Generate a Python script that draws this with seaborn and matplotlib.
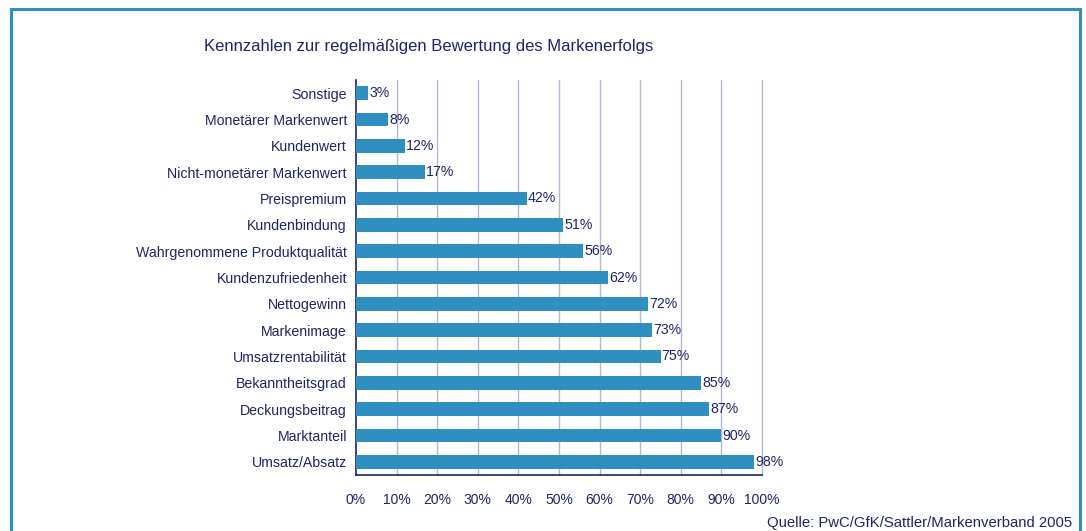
import matplotlib.pyplot as plt
import matplotlib.patches as mpatches
import numpy as np
import pandas as pd
import seaborn as sns

# data
labels = ["Sonstige", "Monetärer Markenwert", "Kundenwert", "Nicht-monetärer Markenwert",
          "Preispremium", "Kundenbindung", "Wahrgenommene Produktqualität", "Kundenzufriedenheit",
          "Nettogewinn", "Markenimage", "Umsatzrentabilität", "Bekanntheitsgrad",
          "Deckungsbeitrag", "Marktanteil", "Umsatz/Absatz"]
values = [3, 8, 12, 17, 42, 51, 56, 62, 72, 73, 75, 85, 87, 90, 98]
xticks = [0, 10, 20, 30, 40, 50, 60, 70, 80, 90, 100]

df = pd.DataFrame({"Kennzahl": labels, "Anteil": values})

navy = "#1F2468"
bar_col = "#2E8FC0"
grid_col = "#B4B7D0"

sns.set_style("white")
plt.rcParams["font.family"] = ["Liberation Sans", "DejaVu Sans"]

fig = plt.figure(figsize=(10.86, 5.31), dpi=100)
ax = fig.add_axes([356 / 1086, 1 - 475 / 531, (762 - 356) / 1086, (475 - 80) / 531])

sns.barplot(data=df, y="Kennzahl", x="Anteil", orient="h", color=bar_col,
            width=0.53, saturation=1, linewidth=0, ax=ax, zorder=3)

ax.set_xlim(0, 100)
ax.set_ylim(len(labels) - 0.5, -0.5)
ax.set_xticks(xticks)
ax.set_xticklabels([f"{t}%" for t in xticks])
ax.set_xlabel("")
ax.set_ylabel("")

# vertical gridlines
for t in xticks[1:]:
    ax.axvline(t, color=grid_col, lw=1, zorder=1, clip_on=False)

for s in ["top", "right"]:
    ax.spines[s].set_visible(False)
for s in ["left", "bottom"]:
    ax.spines[s].set_color(navy)
    ax.spines[s].set_linewidth(1.2)

ax.tick_params(axis="x", colors=navy, labelsize=10, direction="in", length=3, pad=13)
ax.tick_params(axis="y", which="major", length=0, labelsize=10.2, labelcolor=navy, pad=6.5)
ax.set_yticks(np.arange(-0.5, len(labels), 1), minor=True)
ax.tick_params(axis="y", which="minor", direction="in", length=4, color=navy)

for i, v in enumerate(values):
    ax.text(v + 0.3, i, f"{v}%", va="center", ha="left", fontsize=10.2, color=navy, zorder=4)

fig.text(204 / 1086, 1 - 46 / 531, "Kennzahlen zur regelmäßigen Bewertung des Markenerfolgs",
         fontsize=12, color=navy, ha="left", va="center")
fig.text(1072 / 1086, 1 - 523 / 531, "Quelle: PwC/GfK/Sattler/Markenverband 2005",
         fontsize=10.7, color=navy, ha="right", va="center")

# frame around the whole chart
frame = mpatches.Rectangle((11 / 1086, -0.05), (1080 - 11) / 1086, 1.05 - 9 / 531,
                           transform=fig.transFigure, fill=False, edgecolor="#2E8FC0", lw=2.2)
fig.patches.append(frame)

fig.savefig("out.png", dpi=100)
